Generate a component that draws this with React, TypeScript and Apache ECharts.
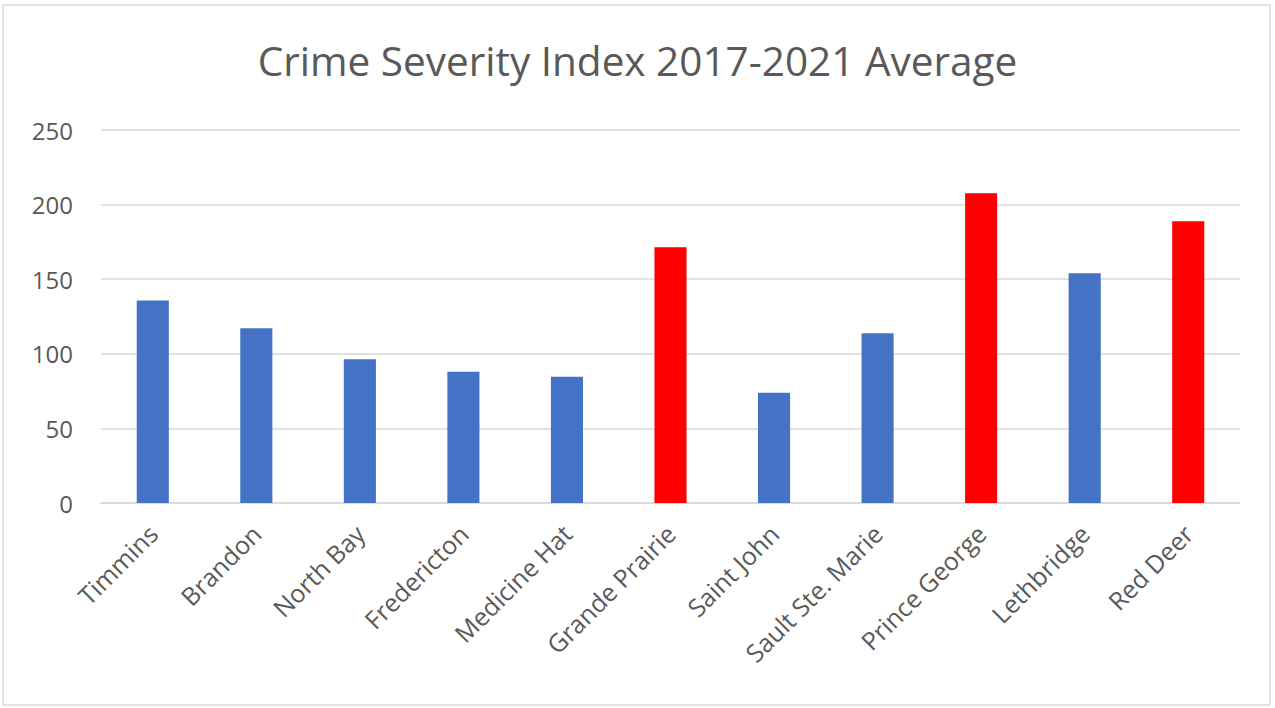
import React, { useEffect, useRef } from "react";
import * as echarts from "echarts";

const titleText = "Crime Severity Index 2017-2021 Average";
const cities = [
  "Timmins",
  "Brandon",
  "North Bay",
  "Fredericton",
  "Medicine Hat",
  "Grande Prairie",
  "Saint John",
  "Sault Ste. Marie",
  "Prince George",
  "Lethbridge",
  "Red Deer",
];
const csiAverage = [135.7, 117.2, 96.4, 87.9, 84.6, 171.4, 73.9, 113.8, 207.6, 154.0, 188.8];
const highlighted = [false, false, false, false, false, true, false, false, true, false, true];
const yTicks = [0, 50, 100, 150, 200, 250];

const BLUE = "#4472C4";
const RED = "#FF0000";
const FONT = "'Open Sans', 'Noto Sans', sans-serif";

export default function App() {
  const ref = useRef<HTMLDivElement>(null);
  useEffect(() => {
    if (!ref.current) return;
    const chart = echarts.init(ref.current, undefined, { renderer: "svg" });
    chart.setOption({
      animation: false,
      backgroundColor: "#ffffff",
      title: {
        text: titleText,
        left: "center",
        top: 35,
        textStyle: {
          fontFamily: FONT,
          fontSize: 40.5,
          fontWeight: "normal",
          color: "#595959",
        },
      },
      graphic: [
        {
          type: "rect",
          shape: { x: 3, y: 5, width: 1267, height: 700 },
          style: { fill: "none", stroke: "#d9d9d9", lineWidth: 1.5 },
          silent: true,
        },
      ],
      grid: { left: 101, right: 35, top: 130, bottom: 205, containLabel: false },
      xAxis: {
        type: "category",
        data: cities,
        axisLine: { show: true, lineStyle: { color: "#d9d9d9", width: 1.5 } },
        axisTick: { show: false },
        axisLabel: {
          rotate: 45,
          interval: 0,
          margin: 26,
          fontFamily: FONT,
          fontSize: 25,
          color: "#595959",
        },
      },
      yAxis: {
        type: "value",
        min: yTicks[0],
        max: yTicks[yTicks.length - 1],
        interval: 50,
        axisLine: { show: false },
        axisTick: { show: false },
        splitLine: { lineStyle: { color: "#d9d9d9", width: 1.5 } },
        axisLabel: {
          margin: 28,
          fontFamily: FONT,
          fontSize: 24,
          color: "#595959",
        },
      },
      series: [
        {
          type: "bar",
          barWidth: "31%",
          data: csiAverage.map((v, i) => ({
            value: v,
            itemStyle: { color: highlighted[i] ? RED : BLUE },
          })),
        },
      ],
    });
    return () => chart.dispose();
  }, []);
  return (
    <div
      ref={ref}
      style={{ position: "fixed", left: 0, top: 0, width: 1275, height: 708 }}
    />
  );
}
